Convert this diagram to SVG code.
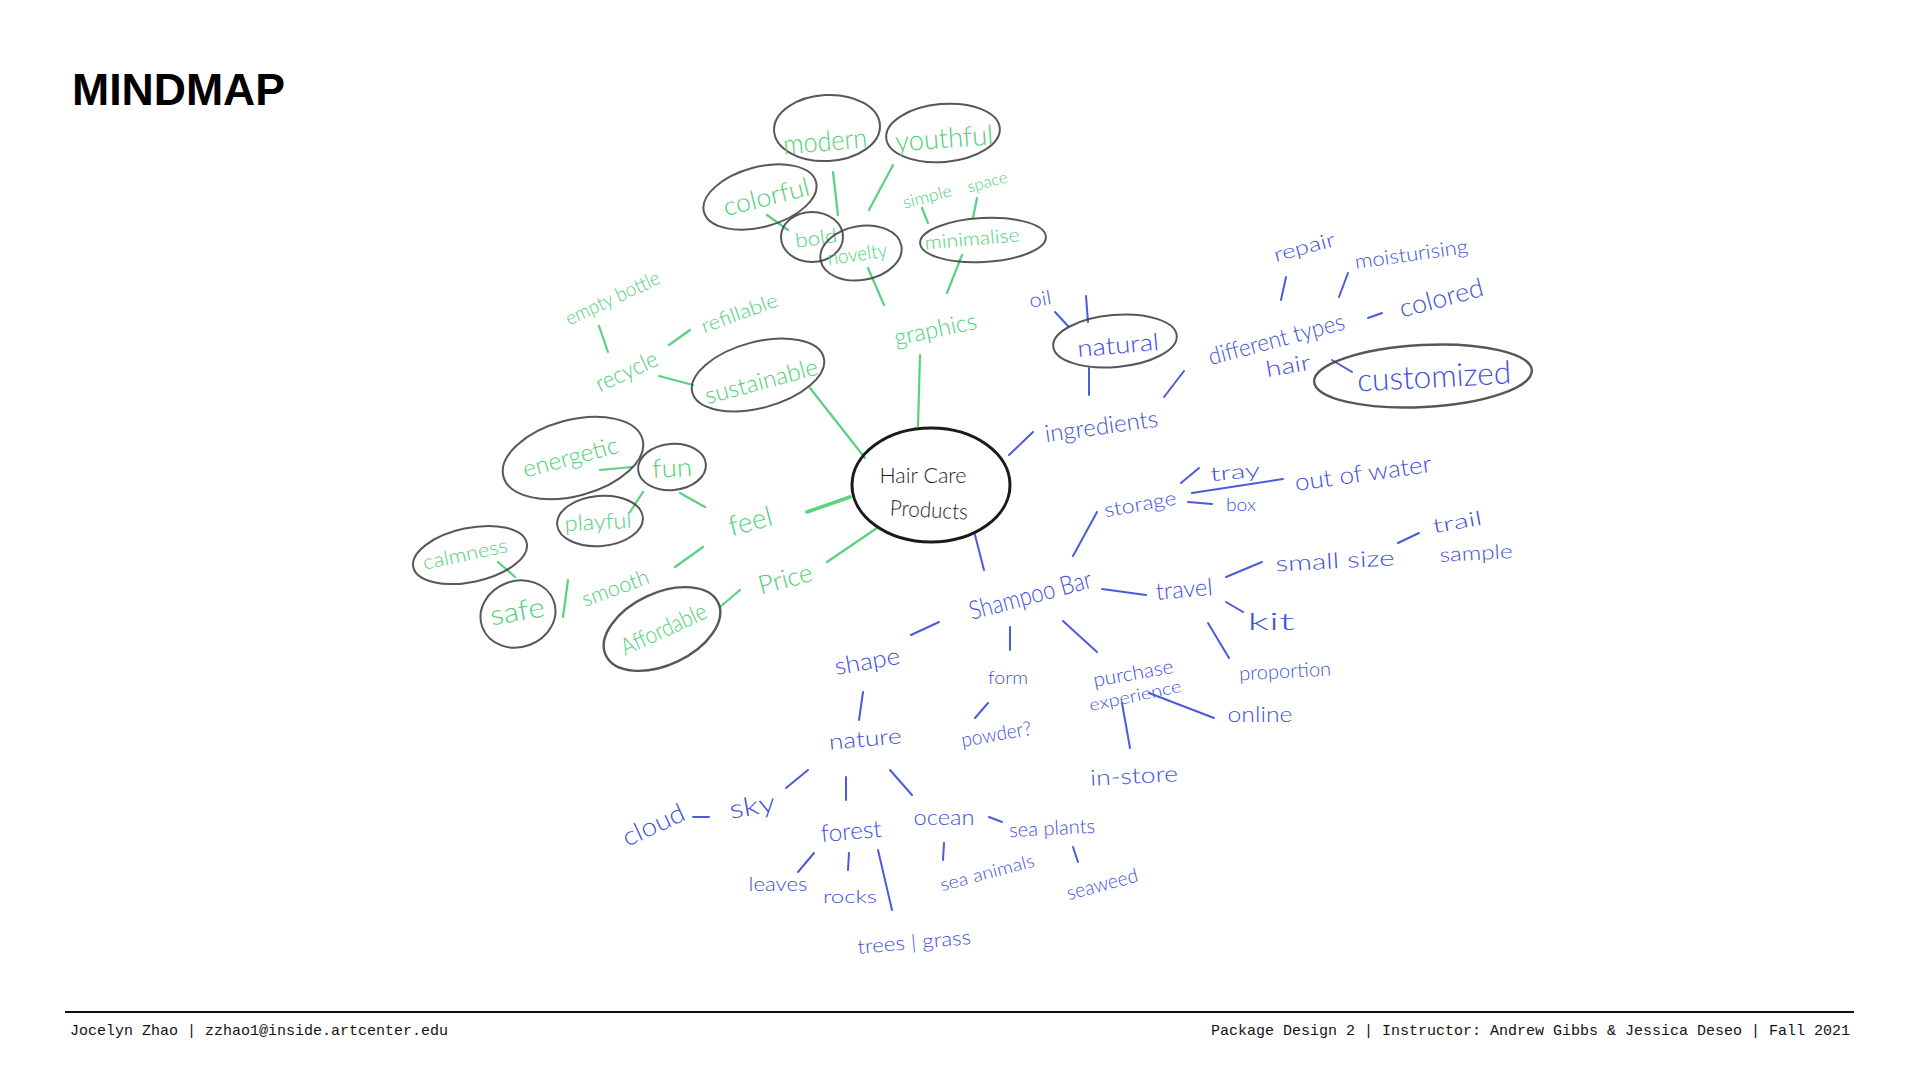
<svg xmlns="http://www.w3.org/2000/svg" width="1920" height="1080" viewBox="0 0 1920 1080">
<style>
.t{font-family:Lato,"Noto Sans","Liberation Sans",sans-serif;font-weight:300;text-anchor:middle;dominant-baseline:central}
.g{fill:#4fcf78}
.b{fill:#3f52d9}
.k{fill:#1e1e1e}
.ov{fill:none;stroke:#3a3a3a;stroke-width:2;stroke-opacity:.85}
.lg line{stroke:#58d27f;stroke-width:2.2;stroke-linecap:round}
.lb line{stroke:#4a5bdc;stroke-width:2;stroke-linecap:round}
.ft{font-family:"Liberation Mono",monospace;font-size:15px;fill:#111}
</style>
<rect width="1920" height="1080" fill="#fff"/>
<text x="72" y="105" font-family="Liberation Sans, Arial, sans-serif" font-weight="bold" font-size="44.5" fill="#000" textLength="213" lengthAdjust="spacingAndGlyphs">MINDMAP</text>

<g id="connectors">
<g class="lg">
<line x1="833" y1="172" x2="838" y2="215"/>
<line x1="893" y1="165" x2="869" y2="210"/>
<line x1="922" y1="208" x2="928" y2="223"/>
<line x1="977" y1="198" x2="973" y2="218"/>
<line x1="767" y1="215" x2="788" y2="230"/>
<line x1="868" y1="268" x2="884" y2="305"/>
<line x1="962" y1="255" x2="947" y2="293"/>
<line x1="920" y1="355" x2="918" y2="426"/>
<line x1="599" y1="326" x2="608" y2="352"/>
<line x1="669" y1="345" x2="690" y2="330"/>
<line x1="659" y1="376" x2="693" y2="385"/>
<line x1="810" y1="388" x2="865" y2="458"/>
<line x1="600" y1="470" x2="632" y2="467"/>
<line x1="643" y1="492" x2="630" y2="512"/>
<line x1="680" y1="493" x2="705" y2="507"/>
<line x1="807" y1="512" x2="850" y2="497" style="stroke-width:3.5"/>
<line x1="498" y1="562" x2="515" y2="577"/>
<line x1="568" y1="580" x2="563" y2="617"/>
<line x1="675" y1="567" x2="703" y2="547"/>
<line x1="720" y1="607" x2="740" y2="590"/>
<line x1="827" y1="562" x2="877" y2="528"/>
</g>
<g class="lb">
<line x1="1055" y1="312" x2="1068" y2="326"/>
<line x1="1086" y1="296" x2="1088" y2="322"/>
<line x1="1089" y1="368" x2="1089" y2="395"/>
<line x1="1164" y1="397" x2="1184" y2="371"/>
<line x1="1286" y1="277" x2="1281" y2="300"/>
<line x1="1348" y1="273" x2="1339" y2="297"/>
<line x1="1368" y1="318" x2="1382" y2="313"/>
<line x1="1332" y1="360" x2="1352" y2="372"/>
<line x1="1009" y1="455" x2="1033" y2="432"/>
<line x1="975" y1="535" x2="984" y2="570"/>
<line x1="1073" y1="556" x2="1097" y2="512"/>
<line x1="1181" y1="483" x2="1199" y2="468"/>
<line x1="1192" y1="493" x2="1283" y2="479"/>
<line x1="1188" y1="502" x2="1212" y2="504"/>
<line x1="1102" y1="589" x2="1146" y2="595"/>
<line x1="1226" y1="577" x2="1262" y2="562"/>
<line x1="1398" y1="543" x2="1419" y2="533"/>
<line x1="1226" y1="602" x2="1243" y2="612"/>
<line x1="1208" y1="623" x2="1229" y2="658"/>
<line x1="1063" y1="621" x2="1097" y2="652"/>
<line x1="1149" y1="693" x2="1214" y2="718"/>
<line x1="1122" y1="703" x2="1130" y2="748"/>
<line x1="1010" y1="627" x2="1010" y2="650"/>
<line x1="988" y1="703" x2="975" y2="718"/>
<line x1="911" y1="635" x2="939" y2="622"/>
<line x1="863" y1="692" x2="859" y2="720"/>
<line x1="808" y1="770" x2="786" y2="788"/>
<line x1="693" y1="817" x2="709" y2="817"/>
<line x1="846" y1="777" x2="846" y2="800"/>
<line x1="890" y1="770" x2="912" y2="795"/>
<line x1="989" y1="817" x2="1002" y2="822"/>
<line x1="814" y1="853" x2="798" y2="872"/>
<line x1="849" y1="853" x2="848" y2="870"/>
<line x1="878" y1="850" x2="892" y2="910"/>
<line x1="944" y1="843" x2="943" y2="860"/>
<line x1="1073" y1="847" x2="1078" y2="862"/>
</g>
</g>

<g id="center">
<ellipse cx="931" cy="485" rx="79" ry="57" fill="none" stroke="#1a1a1a" stroke-width="3"/>
<text class="t k" x="923" y="474" font-size="22" textLength="87" lengthAdjust="spacingAndGlyphs">Hair Care</text>
<text class="t k" x="929" y="509" font-size="22" textLength="78" lengthAdjust="spacingAndGlyphs" transform="rotate(3 929 509)">Products</text>
</g>

<g id="modern"><ellipse class="ov" cx="827" cy="128" rx="53" ry="33" transform="rotate(-3 827 128)"/><text class="t g" x="825" y="140" font-size="28" textLength="84" lengthAdjust="spacingAndGlyphs" transform="rotate(-5 825 140)">modern</text></g>
<g id="youthful"><ellipse class="ov" cx="943" cy="133" rx="57" ry="29" transform="rotate(-5 943 133)"/><text class="t g" x="944" y="137" font-size="28" textLength="98" lengthAdjust="spacingAndGlyphs" transform="rotate(-4 944 137)">youthful</text></g>
<g id="colorful"><ellipse class="ov" cx="760" cy="197" rx="58" ry="30" transform="rotate(-15 760 197)"/><text class="t g" x="766" y="196" font-size="26" textLength="88" lengthAdjust="spacingAndGlyphs" transform="rotate(-14 766 196)">colorful</text></g>
<g id="bold"><ellipse class="ov" cx="812" cy="237" rx="31" ry="25"/><text class="t g" x="816" y="237" font-size="20" textLength="42" lengthAdjust="spacingAndGlyphs" transform="rotate(-8 816 237)">bold</text></g>
<g id="novelty"><ellipse class="ov" cx="861" cy="253" rx="41" ry="27" transform="rotate(-10 861 253)"/><text class="t g" x="857" y="253" font-size="20" textLength="60" lengthAdjust="spacingAndGlyphs" transform="rotate(-8 857 253)">novelty</text></g>
<g id="minimalise"><ellipse class="ov" cx="983" cy="240" rx="63" ry="22" transform="rotate(-3 983 240)"/><text class="t g" x="972" y="238" font-size="19" textLength="95" lengthAdjust="spacingAndGlyphs" transform="rotate(-5 972 238)">minimalise</text></g>
<g id="simple"><text class="t g" x="927" y="196" font-size="17" textLength="50" lengthAdjust="spacingAndGlyphs" transform="rotate(-15 927 196)">simple</text></g>
<g id="space"><text class="t g" x="987" y="181" font-size="16" textLength="41" lengthAdjust="spacingAndGlyphs" transform="rotate(-15 987 181)">space</text></g>
<g id="graphics"><text class="t g" x="935" y="328" font-size="24" textLength="84" lengthAdjust="spacingAndGlyphs" transform="rotate(-12 935 328)">graphics</text></g>
<g id="empty-bottle"><text class="t g" x="612" y="297" font-size="20" textLength="102" lengthAdjust="spacingAndGlyphs" transform="rotate(-25 612 297)">empty bottle</text></g>
<g id="recycle"><text class="t g" x="626" y="370" font-size="24" textLength="66" lengthAdjust="spacingAndGlyphs" transform="rotate(-25 626 370)">recycle</text></g>
<g id="refillable"><text class="t g" x="739" y="312" font-size="20" textLength="80" lengthAdjust="spacingAndGlyphs" transform="rotate(-20 739 312)">refillable</text></g>
<g id="sustainable"><ellipse class="ov" cx="758" cy="375" rx="68" ry="33" transform="rotate(-15 758 375)"/><text class="t g" x="761" y="380" font-size="24" textLength="116" lengthAdjust="spacingAndGlyphs" transform="rotate(-15 761 380)">sustainable</text></g>
<g id="energetic"><ellipse class="ov" cx="573" cy="458" rx="72" ry="38" transform="rotate(-15 573 458)"/><text class="t g" x="570" y="456" font-size="24" textLength="98" lengthAdjust="spacingAndGlyphs" transform="rotate(-15 570 456)">energetic</text></g>
<g id="fun"><ellipse class="ov" cx="672" cy="467" rx="34" ry="23" transform="rotate(-5 672 467)"/><text class="t g" x="672" y="467" font-size="26" textLength="40" lengthAdjust="spacingAndGlyphs" transform="rotate(-3 672 467)">fun</text></g>
<g id="playful"><ellipse class="ov" cx="600" cy="521" rx="43" ry="25" transform="rotate(-5 600 521)"/><text class="t g" x="598" y="521" font-size="22" textLength="67" lengthAdjust="spacingAndGlyphs" transform="rotate(-3 598 521)">playful</text></g>
<g id="calmness"><ellipse class="ov" cx="470" cy="555" rx="58" ry="27" transform="rotate(-12 470 555)"/><text class="t g" x="465" y="553" font-size="20" textLength="86" lengthAdjust="spacingAndGlyphs" transform="rotate(-12 465 553)">calmness</text></g>
<g id="safe"><ellipse class="ov" cx="518" cy="614" rx="38" ry="33" transform="rotate(-20 518 614)"/><text class="t g" x="517" y="610" font-size="28" textLength="55" lengthAdjust="spacingAndGlyphs" transform="rotate(-10 517 610)">safe</text></g>
<g id="smooth"><text class="t g" x="615" y="587" font-size="22" textLength="70" lengthAdjust="spacingAndGlyphs" transform="rotate(-20 615 587)">smooth</text></g>
<g id="feel"><text class="t g" x="750" y="520" font-size="28" textLength="44" lengthAdjust="spacingAndGlyphs" transform="rotate(-15 750 520)">feel</text></g>
<g id="price"><text class="t g" x="785" y="578" font-size="26" textLength="55" lengthAdjust="spacingAndGlyphs" transform="rotate(-15 785 578)">Price</text></g>
<g id="affordable"><ellipse class="ov" cx="662" cy="629" rx="62" ry="36" transform="rotate(-25 662 629)" style="stroke-width:2.4"/><text class="t g" x="663" y="628" font-size="24" textLength="92" lengthAdjust="spacingAndGlyphs" transform="rotate(-25 663 628)">Affordable</text></g>

<g id="oil"><text class="t b" x="1040" y="298" font-size="20" textLength="22" lengthAdjust="spacingAndGlyphs" transform="rotate(-10 1040 298)">oil</text></g>
<g id="natural"><ellipse class="ov" cx="1115" cy="341" rx="62" ry="26" transform="rotate(-5 1115 341)"/><text class="t b" x="1118" y="344" font-size="24" textLength="82" lengthAdjust="spacingAndGlyphs" transform="rotate(-5 1118 344)">natural</text></g>
<g id="ingredients"><text class="t b" x="1101" y="425" font-size="24" textLength="114" lengthAdjust="spacingAndGlyphs" transform="rotate(-8 1101 425)">ingredients</text></g>
<g id="different-types"><text class="t b" x="1276" y="338" font-size="24" textLength="140" lengthAdjust="spacingAndGlyphs" transform="rotate(-15 1276 338)">different types</text></g>
<g id="hair"><text class="t b" x="1288" y="365" font-size="22" textLength="45" lengthAdjust="spacingAndGlyphs" transform="rotate(-10 1288 365)">hair</text></g>
<g id="repair"><text class="t b" x="1304" y="246" font-size="20" textLength="63" lengthAdjust="spacingAndGlyphs" transform="rotate(-15 1304 246)">repair</text></g>
<g id="moisturising"><text class="t b" x="1411" y="253" font-size="20" textLength="114" lengthAdjust="spacingAndGlyphs" transform="rotate(-8 1411 253)">moisturising</text></g>
<g id="colored"><text class="t b" x="1441" y="297" font-size="26" textLength="86" lengthAdjust="spacingAndGlyphs" transform="rotate(-15 1441 297)">colored</text></g>
<g id="customized"><ellipse class="ov" cx="1423" cy="376" rx="109" ry="31" transform="rotate(-3 1423 376)" style="stroke-width:2.4"/><text class="t b" x="1434" y="375" font-size="32" textLength="154" lengthAdjust="spacingAndGlyphs" transform="rotate(-3 1434 375)">customized</text></g>
<g id="shampoo-bar"><text class="t b" x="1030" y="594" font-size="26" textLength="126" lengthAdjust="spacingAndGlyphs" transform="rotate(-15 1030 594)">Shampoo Bar</text></g>
<g id="storage"><text class="t b" x="1140" y="503" font-size="20" textLength="73" lengthAdjust="spacingAndGlyphs" transform="rotate(-10 1140 503)">storage</text></g>
<g id="tray"><text class="t b" x="1235" y="471" font-size="20" textLength="50" lengthAdjust="spacingAndGlyphs" transform="rotate(-5 1235 471)">tray</text></g>
<g id="out-of-water"><text class="t b" x="1363" y="472" font-size="24" textLength="138" lengthAdjust="spacingAndGlyphs" transform="rotate(-8 1363 472)">out of water</text></g>
<g id="box"><text class="t b" x="1241" y="504" font-size="18" textLength="30" lengthAdjust="spacingAndGlyphs">box</text></g>
<g id="travel"><text class="t b" x="1184" y="588" font-size="24" textLength="57" lengthAdjust="spacingAndGlyphs" transform="rotate(-5 1184 588)">travel</text></g>
<g id="small-size"><text class="t b" x="1335" y="560" font-size="22" textLength="119" lengthAdjust="spacingAndGlyphs" transform="rotate(-3 1335 560)">small size</text></g>
<g id="trail-sample"><text class="t b" x="1457" y="521" font-size="20" textLength="50" lengthAdjust="spacingAndGlyphs" transform="rotate(-10 1457 521)">trail</text><text class="t b" x="1476" y="552" font-size="20" textLength="73" lengthAdjust="spacingAndGlyphs" transform="rotate(-3 1476 552)">sample</text></g>
<g id="kit"><text class="t b" x="1271" y="620" font-size="24" textLength="47" lengthAdjust="spacingAndGlyphs">kit</text></g>
<g id="proportion"><text class="t b" x="1285" y="670" font-size="20" textLength="92" lengthAdjust="spacingAndGlyphs" transform="rotate(-3 1285 670)">proportion</text></g>
<g id="purchase-experience"><text class="t b" x="1133" y="672" font-size="20" textLength="81" lengthAdjust="spacingAndGlyphs" transform="rotate(-10 1133 672)">purchase</text><text class="t b" x="1135" y="695" font-size="17" textLength="94" lengthAdjust="spacingAndGlyphs" transform="rotate(-12 1135 695)">experience</text></g>
<g id="online"><text class="t b" x="1260" y="713" font-size="22" textLength="65" lengthAdjust="spacingAndGlyphs">online</text></g>
<g id="in-store"><text class="t b" x="1134" y="775" font-size="22" textLength="88" lengthAdjust="spacingAndGlyphs" transform="rotate(-3 1134 775)">in-store</text></g>
<g id="form"><text class="t b" x="1008" y="677" font-size="18" textLength="40" lengthAdjust="spacingAndGlyphs">form</text></g>
<g id="powder"><text class="t b" x="996" y="733" font-size="20" textLength="71" lengthAdjust="spacingAndGlyphs" transform="rotate(-10 996 733)">powder?</text></g>
<g id="shape"><text class="t b" x="867" y="660" font-size="24" textLength="66" lengthAdjust="spacingAndGlyphs" transform="rotate(-10 867 660)">shape</text></g>
<g id="nature"><text class="t b" x="865" y="738" font-size="22" textLength="73" lengthAdjust="spacingAndGlyphs" transform="rotate(-5 865 738)">nature</text></g>
<g id="sky"><text class="t b" x="752" y="805" font-size="26" textLength="46" lengthAdjust="spacingAndGlyphs" transform="rotate(-10 752 805)">sky</text></g>
<g id="cloud"><text class="t b" x="653" y="824" font-size="26" textLength="66" lengthAdjust="spacingAndGlyphs" transform="rotate(-25 653 824)">cloud</text></g>
<g id="forest"><text class="t b" x="851" y="830" font-size="24" textLength="61" lengthAdjust="spacingAndGlyphs" transform="rotate(-5 851 830)">forest</text></g>
<g id="ocean"><text class="t b" x="944" y="816" font-size="22" textLength="61" lengthAdjust="spacingAndGlyphs">ocean</text></g>
<g id="sea-plants"><text class="t b" x="1052" y="827" font-size="20" textLength="86" lengthAdjust="spacingAndGlyphs" transform="rotate(-3 1052 827)">sea plants</text></g>
<g id="leaves"><text class="t b" x="778" y="883" font-size="20" textLength="59" lengthAdjust="spacingAndGlyphs">leaves</text></g>
<g id="rocks"><text class="t b" x="850" y="896" font-size="18" textLength="54" lengthAdjust="spacingAndGlyphs">rocks</text></g>
<g id="trees-grass"><text class="t b" x="914" y="941" font-size="20" textLength="114" lengthAdjust="spacingAndGlyphs" transform="rotate(-5 914 941)">trees | grass</text></g>
<g id="sea-animals"><text class="t b" x="987" y="872" font-size="18" textLength="97" lengthAdjust="spacingAndGlyphs" transform="rotate(-15 987 872)">sea animals</text></g>
<g id="seaweed"><text class="t b" x="1102" y="883" font-size="20" textLength="73" lengthAdjust="spacingAndGlyphs" transform="rotate(-15 1102 883)">seaweed</text></g>

<g id="footer">
<line x1="65" y1="1012" x2="1854" y2="1012" stroke="#111" stroke-width="2"/>
<text class="ft" x="70" y="1035">Jocelyn Zhao | zzhao1@inside.artcenter.edu</text>
<text class="ft" x="1850" y="1035" text-anchor="end">Package Design 2 | Instructor: Andrew Gibbs &amp; Jessica Deseo | Fall 2021</text>
</g>
</svg>
